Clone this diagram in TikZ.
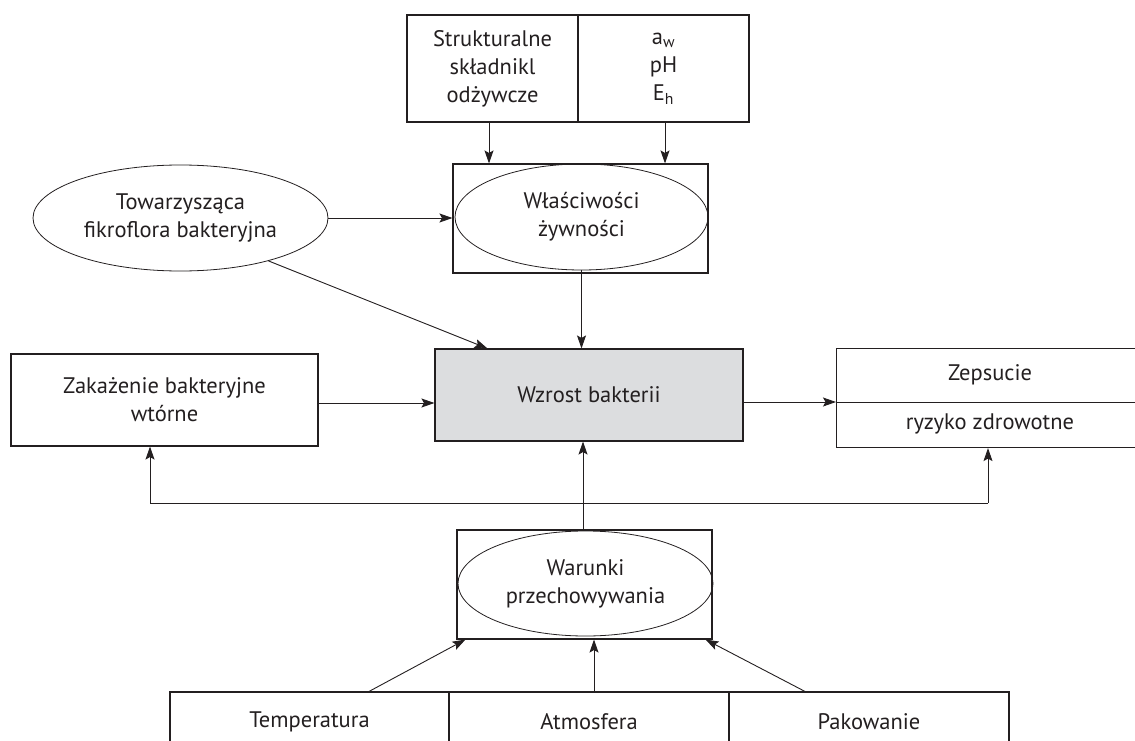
\documentclass[tikz,border=0pt]{standalone}
\usepackage{fontspec}
\setmainfont{PT Sans}
\usetikzlibrary{shapes.geometric,arrows.meta,calc}
\definecolor{ink}{HTML}{231F20}
\definecolor{boxgray}{HTML}{DCDDDF}
\tikzset{
  every node/.style={font=\fontsize{22.5}{28}\selectfont, text=ink, align=center, inner sep=0pt},
  box/.style={draw=ink, line width=1.1pt, rectangle},
  oval/.style={draw=ink, line width=0.8pt, ellipse},
  arr/.style={draw=ink, line width=0.9pt, -{Stealth[length=13pt,width=9pt,inset=2.5pt]}},
  ln/.style={draw=ink, line width=0.9pt}
}
\begin{document}
\begin{tikzpicture}[x=1pt,y=-1pt]
\useasboundingbox (0,0) rectangle (1135,741);
\clip (0,0) rectangle (1135,741);
% top boxes
\node[box, minimum width=171pt, minimum height=107pt] (tl) at (492.5,68.5) {Strukturalne\\składnikl\\odżywcze};
\node[box, minimum width=171pt, minimum height=107pt] (tr) at (663.5,68.5) {a\textsubscript{w}\\pH\\E\textsubscript{h}};
% food properties
\node[box, minimum width=255pt, minimum height=109pt] (pbox) at (580.5,218.5) {};
\node[oval, minimum width=253pt, minimum height=106pt] (pell) at (581.5,217) {Właściwości\\żywności};
% accompanying microflora
\node[oval, minimum width=295pt, minimum height=106pt] (tow) at (180.5,218) {Towarzysząca\\fikroflora bakteryjna};
% growth
\node[box, fill=boxgray, minimum width=308pt, minimum height=92pt] (wz) at (589,395) {Wzrost bakterii};
% secondary contamination
\node[box, minimum width=307pt, minimum height=92pt] (zak) at (164.5,400) {Zakażenie bakteryjne\\wtórne};
% spoilage
\node[box, minimum width=309pt, minimum height=54pt, anchor=north west] (zep) at (836,348) {};
\node[box, minimum width=309pt, minimum height=45pt, anchor=north west] (ryz) at (836,402) {};
\node (zept) at (990,375) {Zepsucie};
\node (ryzt) at (990,424) {ryzyko zdrowotne};
% storage conditions
\node[box, minimum width=255pt, minimum height=109pt] (wbox) at (584.5,584.5) {};
\node[oval, minimum width=255pt, minimum height=105pt] (wel) at (585.5,583.5) {Warunki\\przechowywania};
% bottom boxes
\node[box, minimum width=279pt, minimum height=60pt] (temp) at (309.5,722) {};
\node[box, minimum width=280pt, minimum height=60pt] (atm) at (589,722) {};
\node[box, minimum width=280pt, minimum height=60pt] (pak) at (869,722) {};
\node (tempt) at (309.5,722) {Temperatura};
\node (atmt) at (589,722) {Atmosfera};
\node (pakt) at (869,722) {Pakowanie};
% connectors
\draw[arr] ([xshift=-3.5pt]tl.south) -- ([xshift=-3.5pt]tl.south |- pbox.north);
\draw[arr] ([xshift=1.5pt]tr.south) -- ([xshift=1.5pt]tr.south |- pbox.north);
\draw[arr] (tow.east) -- (tow.east -| pbox.west);
\draw[arr] (tow.-26) -- ([xshift=53pt]wz.north west);
\draw[arr] (pell.south) -- (pell.south |- wz.north);
\draw[arr] ([yshift=-3pt]zak.east) -- ([yshift=-3pt]zak.east -| wz.west);
\draw[arr] ([yshift=-7pt]wz.east) -- ([yshift=-7pt]wz.east -| zep.west);
\draw[arr] ([xshift=-1.5pt]wbox.north) -- ([xshift=-1.5pt]wbox.north |- wz.south);
\coordinate (fl) at (150,503);
\coordinate (fr) at (988,503);
\draw[ln] (fl) -- (fr);
\draw[arr] (fl) -- (fl |- zak.south);
\draw[arr] (fr) -- (fr |- ryz.south);
\draw[arr] ([xshift=59.5pt]temp.north) -- ([xshift=9pt]wbox.south west);
\draw[arr] ([xshift=5pt]atm.north) -- ([xshift=5pt]atm.north |- wbox.south);
\draw[arr] ([xshift=-64pt]pak.north) -- ([xshift=-7pt]wbox.south east);
\end{tikzpicture}
\end{document}
